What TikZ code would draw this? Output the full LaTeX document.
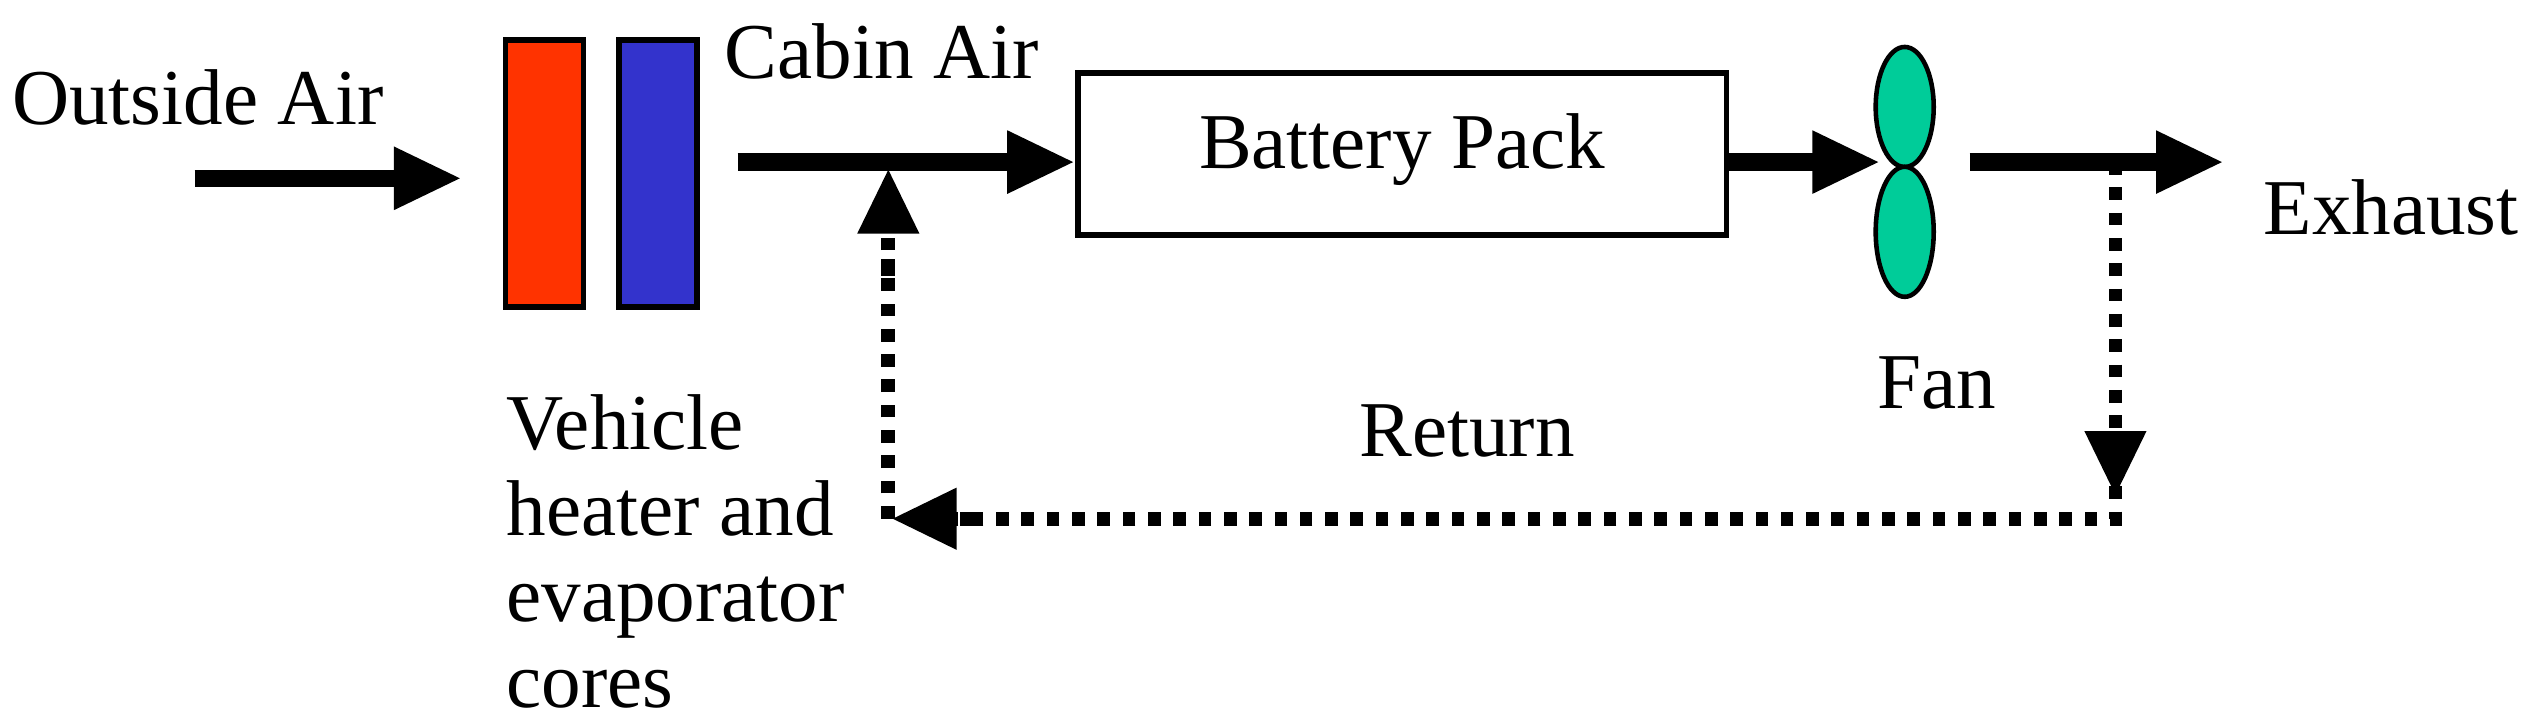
\documentclass[tikz,border=0pt]{standalone}
\usepackage{fontspec}
\setmainfont{Liberation Serif}
\usetikzlibrary{arrows.meta,shapes.geometric}
\begin{document}
\begin{tikzpicture}[x=0.01621cm,y=-0.01621cm,
  lbl/.style={font=\fontsize{22.5}{27}\selectfont,inner sep=0pt},
  flow/.style={line width=4.9pt,-{Triangle[length=0.68cm,width=0.58cm]}},
  ret/.style={line width=3.9pt,dash pattern=on 3.6pt off 3.6pt},
  rettip/.style={ret,-{Triangle[length=0.65cm,width=0.58cm]}}]
\useasboundingbox (0,0) rectangle (1570,447);
\node[lbl] (out) at (122,60) {Outside Air};
\coordinate (a0) at (120,110);
\node[draw=black,line width=1.6pt,fill={rgb,255:red,255;green,51;blue,0},minimum width=0.78cm,minimum height=2.67cm,inner sep=0pt] (red) at (336,107) {};
\node[draw=black,line width=1.6pt,fill={rgb,255:red,51;green,51;blue,204},minimum width=0.78cm,minimum height=2.67cm,inner sep=0pt] (blue) at (406,107) {};
\draw[flow] (a0) -- (285,110) coordinate (a1);
\node[lbl] (cabin) at (544,32) {Cabin Air};
\node[draw=black,line width=1.6pt,minimum width=6.48cm,minimum height=1.62cm,inner sep=0pt] (bat) at (865,95) {};
\node[lbl] at (865,92) {Battery Pack};
\coordinate (c0) at (455,100);
\draw[flow] (c0) -- (bat.west |- c0);
\coordinate (b1) at (1066,100);
\node[ellipse,draw=black,line width=1.3pt,fill={rgb,255:red,0;green,204;blue,153},minimum width=0.58cm,minimum height=1.2cm,inner sep=0pt] (f1) at (1175,66) {};
\node[ellipse,draw=black,line width=1.3pt,fill={rgb,255:red,0;green,204;blue,153},minimum width=0.58cm,minimum height=1.3cm,inner sep=0pt] (f2) at (1175,143) {};
\draw[flow] (b1) -- (1160,100);
\coordinate (e0) at (1215,100);
\draw[flow] (e0) -- (1372,100) coordinate (e1);
\node[lbl,anchor=west] (exh) at (1396,128) {Exhaust};
\node[lbl] (fan) at (1195,236) {Fan};
\node[lbl] (ret) at (905,266) {Return};
\node[lbl,anchor=north west,align=left,font=\fontsize{22.5}{24.5}\selectfont] (veh) at (312,243) {Vehicle\\heater and\\evaporator\\cores};
\coordinate (r0) at (1305,100);
\coordinate (r1) at (1305,320);
\coordinate (r2) at (548,320);
\coordinate (r3) at (548,104);
\draw[rettip] (r0) -- (1305,306);
\draw[ret] (1305,300) -- (r1) -- (590,320);
\draw[rettip] (600,320) -- (550,320);
\draw[ret] (r2) -- (548,160);
\draw[rettip] (548,170) -- (r3);
\end{tikzpicture}
\end{document}
